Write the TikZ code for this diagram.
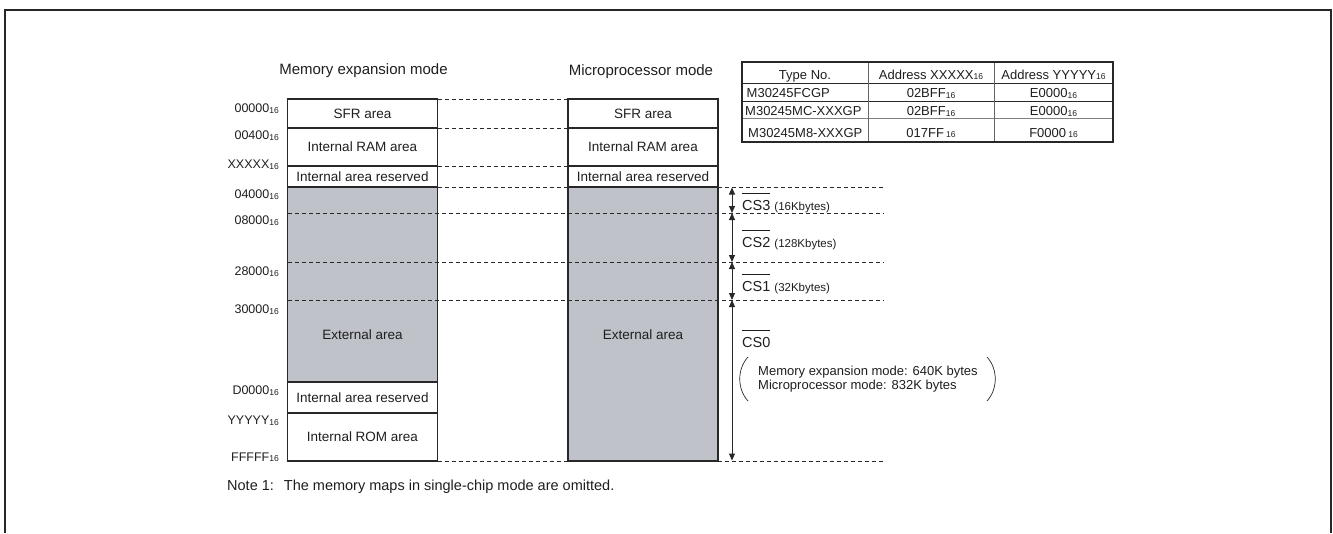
\documentclass[tikz,border=0pt]{standalone}
\usepackage{fontspec}
\setmainfont{Liberation Sans}
\usetikzlibrary{arrows.meta}
\definecolor{memgray}{RGB}{191,195,201}
\definecolor{lineclr}{RGB}{40,40,40}
\definecolor{txtclr}{RGB}{30,30,30}
\newcommand\sixteen{\raisebox{-0.8pt}{\fontsize{8.5}{9}\selectfont 16}}
\newsavebox\csbox
\newcommand\csbar[1]{\sbox\csbox{#1}\rlap{\raisebox{\dimexpr\ht\csbox+6pt\relax}{\rule{\wd\csbox}{0.6pt}}}\usebox\csbox}
\begin{document}
\begin{tikzpicture}[x=1pt,y=-1pt,
  box/.style={draw=lineclr, line width=1.1pt, rectangle, inner sep=0pt, outer sep=0pt,
    anchor=north west, minimum width=150pt, font=\fontsize{13.5}{16}\selectfont, text=txtclr},
  ext/.style={box, fill=memgray},
  boxtext/.style={font=\fontsize{13.5}{16}\selectfont, text=txtclr, inner sep=0pt},
  dline/.style={draw=lineclr, line width=0.8pt, dash pattern=on 4pt off 3pt},
  addr/.style={font=\fontsize{12.5}{14}\selectfont, text=txtclr, anchor=base east, inner sep=0pt},
  title/.style={font=\fontsize{15}{17}\selectfont, text=txtclr, anchor=base, inner sep=0pt},
  tabtext/.style={font=\fontsize{13}{15}\selectfont, text=txtclr, anchor=base, inner sep=0pt},
  tableft/.style={tabtext, anchor=base west},
  tabline/.style={draw=lineclr, line width=0.8pt},
  cslabel/.style={font=\fontsize{14.5}{16}\selectfont, text=txtclr, anchor=base west, inner sep=0pt},
  dimarrow/.style={draw=lineclr, line width=1pt, {Triangle[length=7pt,width=6pt]}-{Triangle[length=7pt,width=6pt]}},
  paren/.style={draw=lineclr, line width=0.7pt},
  frame/.style={draw=black!85, line width=2pt}
]
\useasboundingbox (0,0) rectangle (1333,533);
% outer frame
\coordinate (f1) at (4.5,533);
\coordinate (f2) at (4.5,10);
\coordinate (f3) at (1331,10);
\coordinate (f4) at (1331,533);
\draw[frame] (f1) -- (f2) -- (f3) -- (f4);

% titles
\node[title] (tmem) at (363.5,74.5) {Memory expansion mode};
\node[title] (tmic) at (641,75) {Microprocessor mode};

% left memory map
\node[box, minimum height=29pt] (lsfr) at (287.5,99) {SFR area};
\node[box, minimum height=38pt] (lram) at (287.5,128) {Internal RAM area};
\node[box, minimum height=21pt] (lres) at (287.5,166) {Internal area reserved};
\node[ext, minimum height=195pt] (lext) at (287.5,187) {};
\node[box, minimum height=31pt] (lres2) at (287.5,382) {Internal area reserved};
\node[box, minimum height=48pt] (lrom) at (287.5,413) {Internal ROM area};
\node[boxtext] (lexttxt) at (362.5,335) {External area};

% right memory map
\node[box, minimum height=29pt] (rsfr) at (568,99) {SFR area};
\node[box, minimum height=38pt] (rram) at (568,128) {Internal RAM area};
\node[box, minimum height=21pt] (rres) at (568,166) {Internal area reserved};
\node[ext, minimum height=274pt] (rext) at (568,187) {};
\node[boxtext] (rexttxt) at (643,335) {External area};

% addresses
\node[addr] (a0) at (279,112.7) {00000\sixteen};
\node[addr] (a1) at (279,139.5) {00400\sixteen};
\node[addr] (a2) at (279,168.5) {XXXXX\sixteen};
\node[addr] (a3) at (279,198.5) {04000\sixteen};
\node[addr] (a4) at (279,224.5) {08000\sixteen};
\node[addr] (a5) at (279,275.5) {28000\sixteen};
\node[addr] (a6) at (279,313.5) {30000\sixteen};
\node[addr] (a7) at (279,394.5) {D0000\sixteen};
\node[addr] (a8) at (279,424.5) {YYYYY\sixteen};
\node[addr] (a9) at (279,461) {FFFFF\sixteen};

% dashed boundaries
\draw[dline] (lsfr.north east) -- (rsfr.north west);
\draw[dline] (lram.north east) -- (rram.north west);
\draw[dline] (lres.north east) -- (rres.north west);
\coordinate (e3) at (884,187);
\draw[dline] (lext.north east) -- (e3);
\coordinate (s2) at (288,213);
\coordinate (e2) at (884,213);
\draw[dline] (s2) -- (e2);
\coordinate (s1) at (288,262);
\coordinate (e1) at (884,262);
\draw[dline] (s1) -- (e1);
\coordinate (s0) at (288,300);
\coordinate (e0) at (884,300);
\draw[dline] (s0) -- (e0);
\coordinate (eb) at (884,461);
\draw[dline] (lrom.south east) -- (eb);

% chip-select arrows
\coordinate (p3) at (732,187.5);
\coordinate (p2) at (732,213);
\coordinate (p1) at (732,262);
\coordinate (p0) at (732,300);
\coordinate (pb) at (732,460.5);
\draw[dimarrow] (p3) -- (p2);
\draw[dimarrow] (p2) -- (p1);
\draw[dimarrow] (p1) -- (p0);
\draw[dimarrow] (p0) -- (pb);

\node[cslabel] (cs3) at (742,210) {\csbar{CS3} {\fontsize{11.5}{13}\selectfont (16Kbytes)}};
\node[cslabel] (cs2) at (742,247) {\csbar{CS2} {\fontsize{11.5}{13}\selectfont (128Kbytes)}};
\node[cslabel] (cs1) at (742,291) {\csbar{CS1} {\fontsize{11.5}{13}\selectfont (32Kbytes)}};
\node[cslabel] (cs0) at (742,347) {\csbar{CS0}};

% CS0 size note
\node[tableft] (sz1) at (758,375.3) {Memory expansion mode: 640K bytes};
\node[tableft] (sz2) at (758,389.3) {Microprocessor mode: 832K bytes};
\coordinate (lp1) at (748,357);
\coordinate (lp2) at (748,401);
\coordinate (rp1) at (987,357);
\coordinate (rp2) at (987,401);
\draw[paren] (lp1) .. controls (737,369) and (737,389) .. (lp2);
\draw[paren] (rp1) .. controls (998,369) and (998,389) .. (rp2);

% table
\coordinate (t00) at (742,62);
\coordinate (t11) at (1113,142);
\draw[tabline] (742,83) -- (1113,83);
\draw[tabline] (742,101) -- (1113,101);
\draw[tabline, draw=gray] (742,118) -- (1113,118);
\draw[tabline, draw=gray!80!black] (868,62) -- (868,142);
\draw[tabline, draw=gray!80!black] (994,62) -- (994,142);
\draw[draw=lineclr, line width=1.3pt] (t00) rectangle (t11);

\node[tabtext] (h1) at (805,79) {Type No.};
\node[tabtext] (h2) at (931,79) {Address XXXXX\sixteen};
\node[tabtext] (h3) at (1053.5,79) {Address YYYYY\sixteen};
\node[tableft] (r1a) at (746.5,97.5) {M30245FCGP};
\node[tabtext] (r1b) at (931,97.5) {02BFF\sixteen};
\node[tabtext] (r1c) at (1053.5,97.5) {E0000\sixteen};
\node[tableft] (r2a) at (745,115.5) {M30245MC-XXXGP};
\node[tabtext] (r2b) at (931,115.5) {02BFF\sixteen};
\node[tabtext] (r2c) at (1053.5,115.5) {E0000\sixteen};
\node[tableft] (r3a) at (748,137) {M30245M8-XXXGP};
\node[tabtext] (r3b) at (931,137) {017FF\,\sixteen};
\node[tabtext] (r3c) at (1053.5,137) {F0000\,\sixteen};

% note
\node[font=\fontsize{14.5}{16}\selectfont, text=txtclr, anchor=base west, inner sep=0pt] (note) at (227,490) {Note 1:\hspace{10pt}The memory maps in single-chip mode are omitted.};
\end{tikzpicture}
\end{document}
